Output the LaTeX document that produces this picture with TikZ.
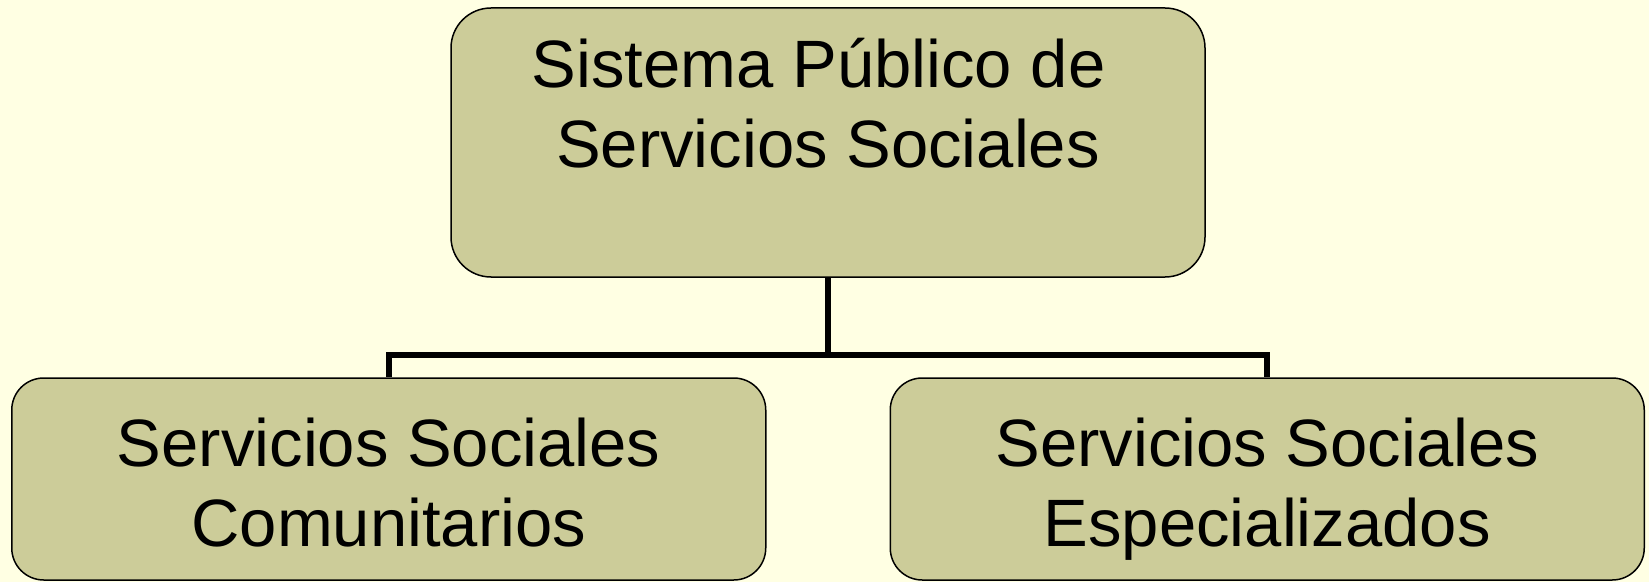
\documentclass[tikz,border=0pt]{standalone}
\usepackage{fontspec}
\setmainfont{Liberation Sans}
\usepackage{tikz}
\usetikzlibrary{arrows,shapes,positioning,trees}
\definecolor{pagebg}{HTML}{FFFFE3}
\definecolor{boxfill}{HTML}{CCCC99}
\newcommand{\orgtext}[3]{\parbox[c][#1][t]{754pt}{\centering\rule{0pt}{#2}#3}}
\tikzset{
    basic/.style  = {draw, rectangle, fill=boxfill, line width=1.5pt, inner sep=0pt,
                     font=\fontsize{67}{80}\selectfont},
    root/.style   = {basic, rounded corners=40pt},
    leaf/.style   = {basic, rounded corners=32pt}
}

\begin{document}
\begin{tikzpicture}[
	level 1/.style={sibling distance=878.5pt},
	level distance = 336.5pt,
	every child node/.style={leaf},
	edge from parent/.style={draw, line width=6pt},
	edge from parent path={(\tikzparentnode.south) -- ++(0,-77pt) -| (\tikzchildnode.north)}]
		\fill[pagebg] (0,0) rectangle (1649pt,582pt);
		\useasboundingbox (0,0) rectangle (1649pt,582pt);
		\node[root] (sistema) at (828pt,439.5pt)
			{\orgtext{269pt}{80pt}{Sistema Público de\ \mbox{}\\Servicios Sociales}}
				child{node (comunitarios)
					{\orgtext{202pt}{88pt}{Servicios Sociales\\Comunitarios}}}
				child{node (especializados)
					{\orgtext{202pt}{88pt}{Servicios Sociales\\Especializados}}};
	\end{tikzpicture}
\end{document}
